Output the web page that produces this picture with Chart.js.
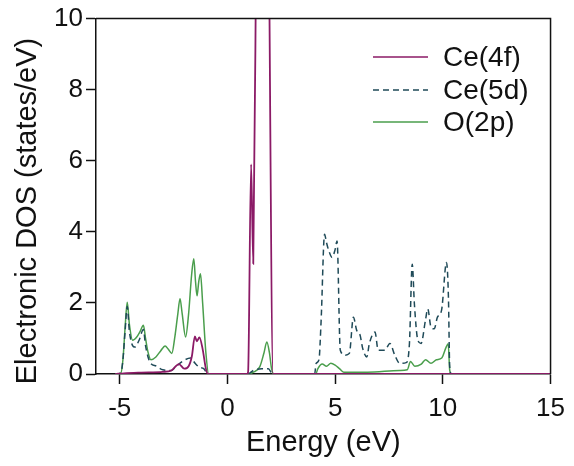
<!DOCTYPE html>
<html>
<head>
<meta charset="utf-8">
<script src="https://cdn.jsdelivr.net/npm/chart.js@4.4.0/dist/chart.umd.min.js"></script>
<style>
  html, body { margin: 0; padding: 0; background: #fff; }
</style>
</head>
<body>
<canvas id="dos" width="574" height="466"></canvas>
<script>
// axis ticks
const xTicks = [-5, 0, 5, 10, 15];
const yTicks = [0, 2, 4, 6, 8, 10];
const xTitle = 'Energy (eV)';
const yTitle = 'Electronic DOS (states/eV)';
const seriesNames = ['Ce(4f)', 'Ce(5d)', 'O(2p)'];

// Ce(4f), peak at 1.3-1.9 eV runs off the top
const f4Energy = [-5.2, -4.8, -4.0, -3.0, -2.6, -2.25, -2.0, -1.8, -1.65, -1.51, -1.42, -1.30, -1.15, -1.0, -0.9,
  0.9, 0.96, 1.1, 1.2, 1.36, 1.5, 1.75, 1.9, 2.12, 15];
const f4Dos = [0, 0.02, 0.04, 0.06, 0.1, 0.28, 0.15, 0.22, 0.5, 1.06, 0.92, 1.03, 0.7, 0.15, 0,
  0, 0.05, 5.9, 3.1, 14, 20, 22, 14, 0, 0];

// Ce(5d)
const d5Energy = [-5.2, -4.95, -4.85, -4.75, -4.65, -4.55, -4.4, -4.3, -4.1, -3.9, -3.8, -3.6, -3.3, -3.0, -2.6, -2.4, -2.1, -1.71, -1.5, -1.33, -1.1, -0.9,
  0.95, 1.2, 1.6, 1.9, 2.1,
  4.05, 4.12, 4.25, 4.35, 4.51, 4.6, 4.71, 4.86, 5.0, 5.09, 5.24, 5.47, 5.66, 5.85, 6.0, 6.16, 6.28, 6.47, 6.59, 6.85, 7.0, 7.31, 7.54, 7.77, 8.0, 8.3,
  8.45, 8.58, 8.68, 8.84, 8.99, 9.19, 9.3, 9.45, 9.6, 9.75, 9.94, 10.17, 10.26, 10.32, 10.4, 15];
const d5Dos = [0, 0.02, 0.4, 1.2, 1.9, 1.2, 0.8, 0.76, 0.95, 1.25, 0.8, 0.34, 0.22, 0.12, 0.1, 0.2, 0.35, 0.45, 0.3, 0.2, 0.15, 0,
  0, 0.1, 0.15, 0.15, 0,
  0, 0.3, 0.4, 1.5, 3.93, 3.7, 3.46, 3.28, 3.5, 3.74, 0.67, 0.53, 0.58, 1.6, 1.23, 1.09, 0.72, 0.48, 0.86, 1.18, 0.67, 0.67, 0.86, 0.53, 0.3, 0.32,
  0.86, 3.09, 1.97, 0.95, 0.86, 1.5, 1.83, 1.32, 1.27, 1.6, 1.79, 3.14, 2.16, 0.2, 0, 0];

// O(2p)
const p2Energy = [-5.2, -4.95, -4.85, -4.75, -4.65, -4.55, -4.4, -4.2, -4.05, -3.9, -3.8, -3.68, -3.55, -3.32, -3.1, -2.89, -2.75, -2.58, -2.45, -2.3, -2.2, -2.1, -1.94, -1.8, -1.66, -1.56, -1.48, -1.41, -1.33, -1.25, -1.15, -1.0, -0.87,
  0.95, 1.2, 1.5, 1.7, 1.83, 1.95, 2.05, 2.15,
  4.1, 4.2, 4.4, 4.6, 4.8, 5.0, 5.2, 5.4, 6.5, 8.0, 8.35, 8.5, 8.7, 9.0, 9.2, 9.45, 9.7, 9.95, 10.15, 10.25, 10.32, 10.4, 15];
const p2Dos = [0, 0.02, 0.4, 1.3, 2.02, 1.4, 0.95, 1.05, 1.2, 1.37, 1.0, 0.6, 0.4, 0.48, 0.65, 0.79, 0.7, 0.58, 1.0, 1.7, 2.12, 1.7, 1.04, 1.7, 2.8, 3.24, 2.6, 2.2, 2.6, 2.82, 2.0, 0.6, 0,
  0, 0.05, 0.2, 0.6, 0.9, 0.6, 0.15, 0,
  0, 0.15, 0.28, 0.22, 0.3, 0.25, 0.15, 0.05, 0.05, 0.1, 0.12, 0.35, 0.22, 0.28, 0.4, 0.3, 0.4, 0.45, 0.75, 0.85, 0.1, 0, 0];

const colors = ['#8b1a66', '#1f4a58', '#4a9e4c'];
const dashes = [[], [6, 4], []];

const toPoints = (xs, ys) => xs.map((x, i) => ({ x: x, y: ys[i] }));
const seriesData = [toPoints(f4Energy, f4Dos), toPoints(d5Energy, d5Dos), toPoints(p2Energy, p2Dos)];

const FONT = '"Liberation Sans", Arial, Helvetica, sans-serif';
const INK = '#111';

// frame, rotated y title and in-plot legend
const extras = {
  id: 'extras',
  afterDraw(chart) {
    const { ctx, chartArea: a } = chart;
    ctx.save();
    ctx.strokeStyle = INK;
    ctx.lineWidth = 1.5;
    ctx.beginPath();
    ctx.moveTo(a.left, a.top);
    ctx.lineTo(a.right, a.top);
    ctx.lineTo(a.right, a.bottom);
    ctx.stroke();

    ctx.fillStyle = INK;
    ctx.font = '29px ' + FONT;
    ctx.textAlign = 'center';
    ctx.textBaseline = 'middle';
    ctx.save();
    ctx.translate(28, 211);
    ctx.rotate(-Math.PI / 2);
    ctx.fillText(yTitle, 0, 0);
    ctx.restore();

    ctx.font = '28px ' + FONT;
    ctx.textAlign = 'left';
    const rows = [57, 90, 122];
    chart.data.datasets.forEach((ds, i) => {
      ctx.strokeStyle = ds.borderColor;
      ctx.lineWidth = 1.3;
      ctx.setLineDash(ds.borderDash || []);
      ctx.beginPath();
      ctx.moveTo(373, rows[i]);
      ctx.lineTo(428, rows[i]);
      ctx.stroke();
      ctx.setLineDash([]);
      ctx.fillText(ds.label, 443, rows[i] + 1);
    });
    ctx.restore();
  }
};

new Chart(document.getElementById('dos'), {
  type: 'line',
  data: {
    datasets: seriesNames.map((name, i) => ({
      label: name,
      data: seriesData[i],
      borderColor: colors[i],
      borderWidth: i === 0 ? 1.8 : 1.5,
      borderDash: dashes[i],
      pointRadius: 0,
      cubicInterpolationMode: 'monotone',
      fill: false
    }))
  },
  options: {
    responsive: false,
    animation: false,
    layout: { padding: { left: 0, right: 18, top: 16, bottom: 0 } },
    plugins: { legend: { display: false }, tooltip: { enabled: false } },
    scales: {
      x: {
        type: 'linear',
        min: -6.1,
        max: 15,
        afterBuildTicks: s => { s.ticks = xTicks.map(v => ({ value: v })); },
        afterFit: s => { s.height = 92; },
        grid: { drawOnChartArea: false, tickLength: 10, tickWidth: 1.5, tickColor: INK },
        border: { color: INK, width: 1.5 },
        ticks: { color: INK, padding: 9, maxRotation: 0, font: { family: FONT, size: 26 } },
        title: { display: true, text: xTitle, color: INK, padding: { top: 0, bottom: 6 }, font: { family: FONT, size: 29 } }
      },
      y: {
        min: 0,
        max: 10,
        afterBuildTicks: s => { s.ticks = yTicks.map(v => ({ value: v })); },
        afterFit: s => { s.width = 96; },
        grid: { drawOnChartArea: false, tickLength: 10, tickWidth: 1.5, tickColor: INK },
        border: { color: INK, width: 1.5 },
        ticks: { color: INK, padding: 3, font: { family: FONT, size: 26 } }
      }
    }
  },
  plugins: [extras]
});
</script>
</body>
</html>
